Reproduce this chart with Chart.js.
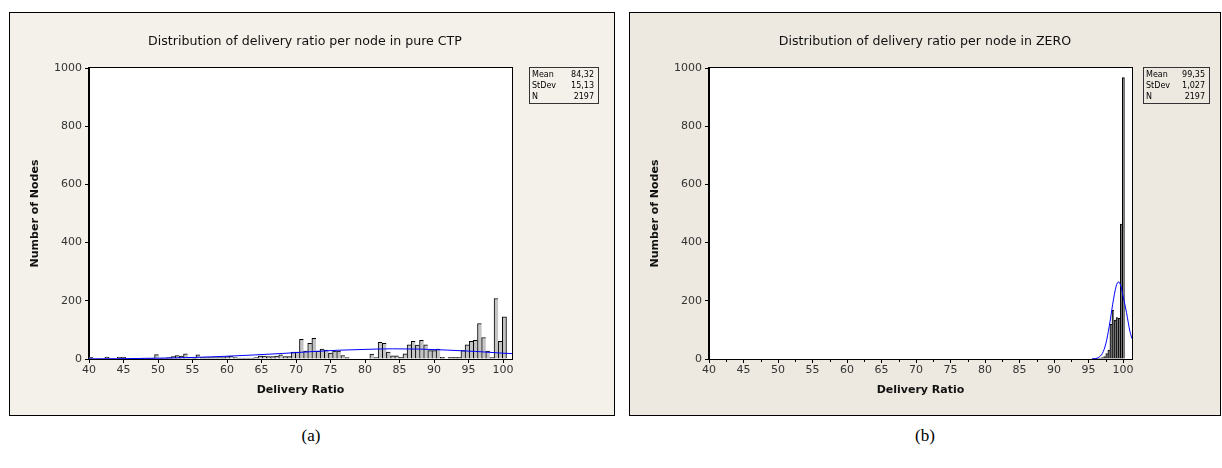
<!DOCTYPE html>
<html>
<head>
<meta charset="utf-8">
<script src="https://cdn.jsdelivr.net/npm/chart.js@4.4.1/dist/chart.umd.min.js"></script>
<style>
  html, body { margin: 0; padding: 0; background: #fff; width: 1222px; height: 468px; overflow: hidden; }
  .panel { position: absolute; top: 12px; height: 404px; }
  #pa { left: 9px; width: 606px; }
  #pb { left: 629px; width: 592px; }
  .cap { position: absolute; top: 426px; font-family: "Liberation Serif", "DejaVu Serif", serif; font-size: 17px; color: #000; transform: translateX(-50%); }
</style>
</head>
<body>
<div class="panel" id="pa"><canvas id="ca"></canvas></div>
<div class="panel" id="pb"><canvas id="cb"></canvas></div>
<div class="cap" style="left:311px">(a)</div>
<div class="cap" style="left:925px">(b)</div>
<script>
// ---- axis ticks -------------------------------------------------------
const xTicks = [40, 45, 50, 55, 60, 65, 70, 75, 80, 85, 90, 95, 100];
const xMinorTicks = [42.5, 47.5, 52.5, 57.5, 62.5, 67.5, 72.5, 77.5, 82.5, 87.5, 92.5, 97.5];
const yTicks = [0, 200, 400, 600, 800, 1000];
const statNames = ['Mean', 'StDev', 'N'];

// ---- pure CTP: histogram (bin midpoints, bin width 0.6) ----------------
const ctpMids = [
  40.2, 40.8, 41.4, 42.0, 42.6, 43.2, 43.8, 44.4, 45.0, 45.6,
  46.2, 46.8, 47.4, 48.0, 48.6, 49.2, 49.8, 50.4, 51.0, 51.6,
  52.2, 52.8, 53.4, 54.0, 54.6, 55.2, 55.8, 56.4, 57.0, 57.6,
  58.2, 58.8, 59.4, 60.0, 60.6, 61.2, 61.8, 62.4, 63.0, 63.6,
  64.2, 64.8, 65.4, 66.0, 66.6, 67.2, 67.8, 68.4, 69.0, 69.6,
  70.2, 70.8, 71.4, 72.0, 72.6, 73.2, 73.8, 74.4, 75.0, 75.6,
  76.2, 76.8, 77.4, 78.0, 78.6, 79.2, 79.8, 80.4, 81.0, 81.6,
  82.2, 82.8, 83.4, 84.0, 84.6, 85.2, 85.8, 86.4, 87.0, 87.6,
  88.2, 88.8, 89.4, 90.0, 90.6, 91.2, 91.8, 92.4, 93.0, 93.6,
  94.2, 94.8, 95.4, 96.0, 96.6, 97.2, 97.8, 98.4, 99.0, 99.6,
  100.2
];
const ctpCounts = [
  6, 0, 0, 0, 7, 0, 0, 6, 6, 0,
  0, 0, 0, 3, 3, 3, 15, 3, 3, 5,
  8, 12, 10, 18, 5, 3, 14, 5, 5, 5,
  5, 5, 5, 8, 10, 5, 3, 3, 3, 3,
  5, 10, 10, 8, 8, 10, 14, 8, 8, 24,
  24, 68, 27, 54, 71, 27, 34, 31, 20, 27,
  27, 12, 5, 0, 0, 0, 0, 0, 17, 5,
  57, 54, 24, 11, 11, 6, 18, 49, 61, 48,
  64, 49, 29, 29, 34, 6, 0, 6, 6, 6,
  29, 49, 61, 64, 122, 74, 27, 5, 208, 61,
  145
];
// fitted normal curve, read at these positions
const ctpCurveX = [40, 44, 48, 52, 56, 60, 64, 68, 72, 76, 80, 84, 88, 92, 96, 100, 101.3];
const ctpCurveY = [0.5, 1, 2, 3.5, 6, 9.5, 14, 19, 25, 30, 33, 35, 34, 30.5, 26, 20, 18.5];
const ctpStats = ['84,32', '15,13', '2197'];

// ---- ZERO: histogram (bin midpoints, bin width 0.3) --------------------
const zeroMids = [95.85, 96.15, 96.45, 96.75, 97.05, 97.35, 97.65, 97.95, 98.25, 98.55, 98.85, 99.15, 99.45, 99.75, 100.05];
const zeroCounts = [1, 1, 2, 3, 5, 8, 19, 31, 119, 168, 134, 142, 140, 464, 967];
const zeroCurveX = [95.5, 96, 96.5, 97, 97.5, 98, 98.5, 99, 99.35, 99.7, 100, 100.5, 101, 101.3];
const zeroCurveY = [0.5, 1.5, 6, 19, 52, 112, 188, 250, 265, 250, 217, 160, 95, 70];
const zeroStats = ['99,35', '1,027', '2197'];

const UI_FONT = '"DejaVu Sans", "Liberation Sans", sans-serif';

function pairs(xs, ys) { return xs.map((x, i) => ({ x: x, y: ys[i] })); }

// frame, white plot area, title, axis titles, stats box and minor ticks
const panelFrame = {
  id: 'panelFrame',
  beforeDraw(chart, args, o) {
    const { ctx, width, height, chartArea: a } = chart;
    ctx.save();
    ctx.fillStyle = o.background;
    ctx.fillRect(0, 0, width, height);
    ctx.strokeStyle = '#000';
    ctx.lineWidth = 1;
    ctx.strokeRect(0.5, 0.5, width - 1, height - 1);
    ctx.fillStyle = '#fff';
    ctx.fillRect(a.left, a.top, a.right - a.left, a.bottom - a.top);
    ctx.restore();
  },
  afterDraw(chart, args, o) {
    const { ctx, chartArea: a } = chart;
    const xs = chart.scales.x;
    ctx.save();
    // plot frame
    ctx.strokeStyle = '#000';
    ctx.lineWidth = 1;
    ctx.strokeRect(Math.round(a.left) - 0.5, Math.round(a.top) - 0.5,
                   Math.round(a.right - a.left) + 1, Math.round(a.bottom - a.top) + 1);
    // minor ticks
    if (o.minor) {
      ctx.beginPath();
      o.minor.forEach(v => {
        const px = Math.round(xs.getPixelForValue(v)) + 0.5;
        ctx.moveTo(px, a.bottom);
        ctx.lineTo(px, a.bottom + 3);
      });
      ctx.stroke();
    }
    // title
    ctx.fillStyle = '#111';
    ctx.textAlign = 'center';
    ctx.textBaseline = 'middle';
    ctx.font = '12.6px ' + UI_FONT;
    ctx.fillText(o.title, o.titleX, o.titleY);
    // axis titles
    ctx.font = 'bold 11px ' + UI_FONT;
    ctx.fillText('Delivery Ratio', (a.left + a.right) / 2, o.xTitleY);
    ctx.save();
    ctx.translate(o.yTitleX, (a.top + a.bottom) / 2);
    ctx.rotate(-Math.PI / 2);
    ctx.fillText('Number of Nodes', 0, 0);
    ctx.restore();
    // stats box
    const b = o.box;
    ctx.strokeStyle = '#333';
    ctx.strokeRect(b.x + 0.5, b.y + 0.5, b.w, b.h);
    ctx.font = '8px ' + UI_FONT;
    ctx.fillStyle = '#000';
    statNames.forEach((n, i) => {
      const y = b.y + 8 + i * 11;
      ctx.textAlign = 'left';
      ctx.fillText(n, b.x + 3, y);
      ctx.textAlign = 'right';
      ctx.fillText(o.stats[i], b.x + b.w - 4, y);
    });
    ctx.restore();
  }
};

function makeHistogram(id, opts) {
  const counts = opts.counts;
  const canvas = document.getElementById(id);
  const W = canvas.parentNode.clientWidth, H = canvas.parentNode.clientHeight;
  return new Chart(canvas, {
    type: 'bar',
    data: {
      datasets: [
        {
          type: 'line',
          data: pairs(opts.curveX, opts.curveY),
          borderColor: '#0000ff',
          borderWidth: 1,
          pointRadius: 0,
          fill: false,
          cubicInterpolationMode: 'monotone',
          order: 0
        },
        {
          type: 'bar',
          data: pairs(opts.mids, counts.map(c => c > 0 ? c : null)),
          backgroundColor: opts.barFill,
          borderColor: '#000',
          borderWidth: ctx => {
            const i = ctx.dataIndex;
            const nextEmpty = !(counts[i + 1] > 0);
            return { left: 1, top: 1, right: nextEmpty ? 1 : 0, bottom: 0 };
          },
          borderSkipped: false,
          barPercentage: 1,
          categoryPercentage: 1,
          grouped: false,
          order: 1
        }
      ]
    },
    options: {
      responsive: true,
      maintainAspectRatio: false,
      animation: false,
      events: [],
      layout: { padding: { top: 56, left: 0, right: W - 503, bottom: 0 } },
      plugins: {
        legend: { display: false },
        tooltip: { enabled: false },
        panelFrame: {
          background: opts.background,
          title: opts.title,
          titleX: 296, titleY: 30,
          xTitleY: 378, yTitleX: 26,
          box: opts.box,
          stats: opts.stats,
          minor: opts.minor
        }
      },
      scales: {
        x: {
          type: 'linear',
          offset: false,
          min: 40, max: 101.3,
          afterFit: s => { s.height = H - 347; },
          afterBuildTicks: s => { s.ticks = xTicks.map(v => ({ value: v })); },
          grid: { offset: false, drawOnChartArea: false, drawTicks: true, tickLength: 4, color: '#000' },
          border: { display: true, color: '#000' },
          ticks: { padding: 1, maxRotation: 0, autoSkip: false, color: '#333', font: { family: UI_FONT, size: 11 },
                   callback: v => String(v) }
        },
        y: {
          type: 'linear',
          min: 0, max: 1000,
          afterFit: s => { s.width = 80; },
          afterBuildTicks: s => { s.ticks = yTicks.map(v => ({ value: v })); },
          grid: { drawOnChartArea: false, drawTicks: true, tickLength: 4, color: '#000' },
          border: { display: true, color: '#000' },
          ticks: { padding: 3, color: '#333', font: { family: UI_FONT, size: 11 },
                   callback: v => String(v) }
        }
      }
    },
    plugins: [panelFrame]
  });
}

makeHistogram('ca', {
  mids: ctpMids, counts: ctpCounts,
  curveX: ctpCurveX, curveY: ctpCurveY,
  barFill: '#c4c4c4',
  background: '#f4f1ea',
  title: 'Distribution of delivery ratio per node in pure CTP',
  box: { x: 520, y: 55, w: 69, h: 36 },
  stats: ctpStats,
  minor: null
});

makeHistogram('cb', {
  mids: zeroMids, counts: zeroCounts,
  curveX: zeroCurveX, curveY: zeroCurveY,
  barFill: '#7a7a7a',
  background: '#ede9e0',
  title: 'Distribution of delivery ratio per node in ZERO',
  box: { x: 514, y: 55, w: 66, h: 36 },
  stats: zeroStats,
  minor: xMinorTicks
});
</script>
</body>
</html>
